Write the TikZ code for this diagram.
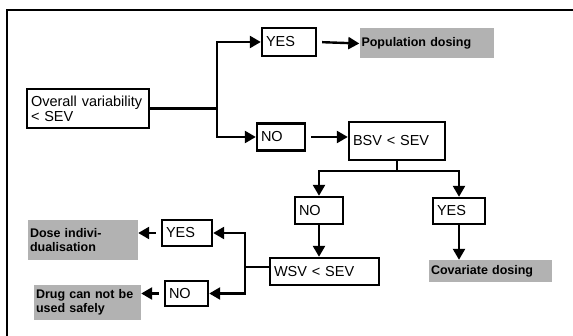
\documentclass[tikz,border=0pt]{standalone}
\usepackage{fontspec}
\setmainfont{Liberation Sans}
\usetikzlibrary{arrows.meta}
\tikzset{
  box/.style={draw=black, line width=2.4pt, fill=white, inner xsep=4pt, inner ysep=1pt, font=\fontsize{14.5}{15}\selectfont, align=left},
  greybox/.style={fill=black!30, inner xsep=2pt, inner ysep=1pt, font=\fontsize{12.5}{14}\selectfont\bfseries, align=left},
  conn/.style={line width=2.4pt},
  arr/.style={conn, -{Triangle[length=11pt,width=12pt]}},
  sz/.style n args={3}{minimum width=#1pt, minimum height=#2pt, text width=#3pt},
}
\begin{document}
\begin{tikzpicture}[x=1pt,y=-1pt]
\useasboundingbox (0,0) rectangle (573,336);
% frame (top and left edges)
\draw[line width=2.4pt] (573,10) -- (7,10) -- (7,336);
% nodes
\node[box, sz={122}{39}{114}] (ov) at (88,108.5) {Overall variability\\< SEV};
\node[box, sz={54}{28}{46}] (yes1) at (289,42) {YES};
\node[greybox, sz={134}{30}{130}] (pop) at (426.5,43.5) {Population dosing};
\node[box, sz={48}{27}{40}] (no1) at (281,137) {NO};
\node[box, sz={96}{38}{88}] (bsv) at (397,141) {BSV < SEV};
\node[box, sz={48}{27}{40}] (no2) at (319,210.5) {NO};
\node[box, sz={52}{26}{44}] (yes2) at (459,211) {YES};
\node[box, sz={109}{27}{101}] (wsv) at (324.5,271.5) {WSV < SEV};
\node[greybox, sz={123}{22}{119}] (cov) at (490.5,271) {Covariate dosing};
\node[box, sz={50}{26}{42}] (yes3) at (187,233) {YES};
\node[box, sz={43}{25}{35}] (no3) at (186.5,293.5) {NO};
\node[greybox, sz={110}{40}{106}] (dose) at (83,240) {Dose indivi-\\dualisation};
\node[greybox, sz={107}{35}{103}] (drug) at (87.5,302.5) {Drug can not be\\used safely};
% junctions
\coordinate (j1) at (217,108.5);
\coordinate (j2) at (397,171);
\coordinate (j3) at (245,267);
% connectors
\draw[conn] (ov.east) -- (j1);
\draw[arr] (j1) |- (yes1.west);
\draw[arr] (j1) |- (no1.west);
\draw[arr, shorten <=5pt] (yes1.east) -- (pop.west);
\draw[arr, shorten <=5pt] (no1.east) -- (no1.east -| bsv.west);
\draw[conn] (bsv.south) -- (j2);
\draw[arr] (j2) -| (no2.north);
\draw[arr] (j2) -| (yes2.north);
\draw[arr] (no2.south) -- (no2.south |- wsv.north);
\draw[arr] (yes2.south) -- (yes2.south |- cov.north);
\draw[conn] (wsv.west |- j3) -- (j3);
\draw[arr] (j3) |- (yes3.east);
\draw[arr] (j3) |- (no3.east);
\draw[arr, shorten <=5pt] (yes3.west) -- (yes3.west -| dose.east);
\draw[arr, shorten <=5pt] (no3.west) -- (no3.west -| drug.east);
\end{tikzpicture}
\end{document}
